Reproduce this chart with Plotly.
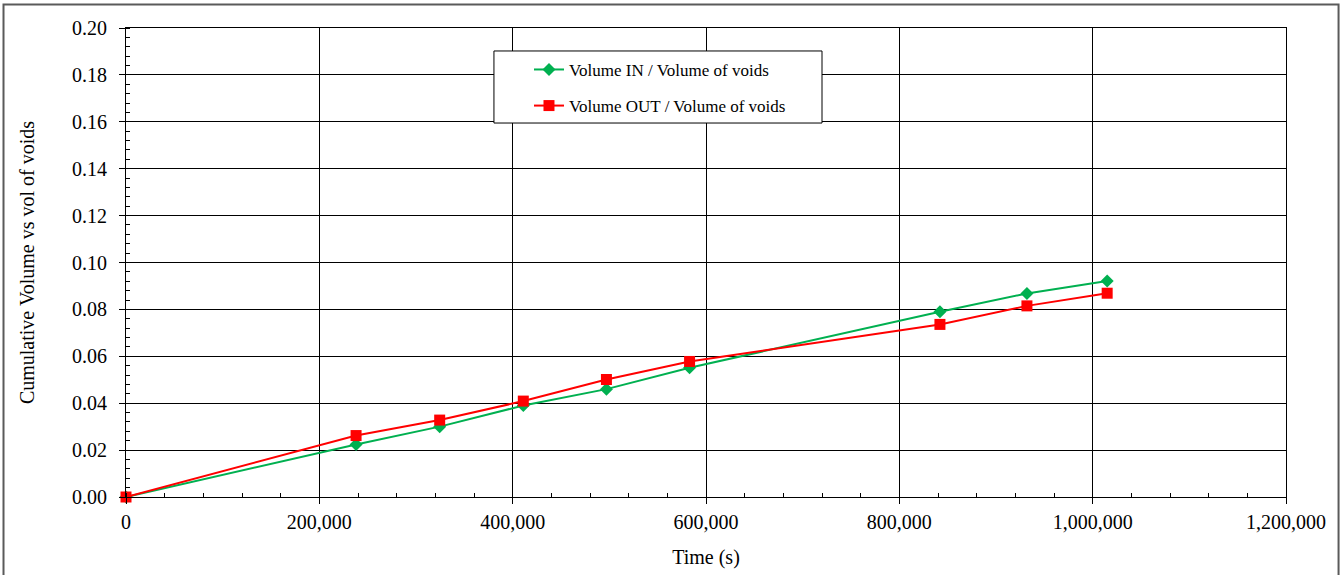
import plotly.graph_objects as go

time_in = [0, 238000, 324500, 411000, 497000, 583000, 842000, 932000, 1015000]
vol_in = [0.0, 0.0224, 0.0300, 0.0390, 0.0460, 0.0551, 0.0790, 0.0868, 0.0921]
time_out = [0, 238000, 324500, 411000, 497000, 583000, 842000, 932000, 1015000]
vol_out = [0.0, 0.0262, 0.0328, 0.0409, 0.0501, 0.0578, 0.0736, 0.0815, 0.0869]

name_in = "Volume IN / Volume of voids"
name_out = "Volume OUT / Volume of voids"
x_title = "Time (s)"
y_title = "Cumulative Volume vs vol of voids"

FONT = "Liberation Serif, Times New Roman, serif"

fig = go.Figure()
fig.add_trace(go.Scatter(x=time_in, y=vol_in, name=name_in, mode="lines+markers",
                         line=dict(color="#00B050", width=2),
                         marker=dict(symbol="diamond", size=10, color="#00B050"),
                         cliponaxis=False, legendgroup="a"))
fig.add_trace(go.Scatter(x=time_out, y=vol_out, name=name_out, mode="lines+markers",
                         line=dict(color="#FF0000", width=2),
                         marker=dict(symbol="square", size=11, color="#FF0000"),
                         cliponaxis=False, legendgroup="b"))

axis_common = dict(showline=True, linecolor="black", linewidth=1, mirror=True,
                   showgrid=True, gridcolor="black", gridwidth=1,
                   ticks="outside", ticklen=6, tickcolor="black",
                   tickfont=dict(family=FONT, size=20, color="black"),
                   zeroline=False, automargin=False)

fig.update_xaxes(range=[0, 1200000], dtick=200000, tick0=0, tickformat=",",
                 title=dict(text=x_title, font=dict(family=FONT, size=20, color="black"), standoff=17),
                 minor=dict(ticks="inside", dtick=40000, ticklen=4, tickcolor="black", showgrid=False),
                 ticklabelstandoff=1, **axis_common)
fig.update_yaxes(range=[0, 0.2], dtick=0.02, tick0=0, tickformat=".2f",
                 title=dict(text=y_title, font=dict(family=FONT, size=20, color="black"), standoff=32),
                 minor=dict(ticks="inside", dtick=0.004, ticklen=4, tickcolor="black", showgrid=False),
                 ticklabelstandoff=8, **axis_common)

fig.update_layout(
    width=1340, height=575,
    margin=dict(l=126, r=54, t=28, b=78),
    paper_bgcolor="white", plot_bgcolor="white",
    font=dict(family=FONT, color="black"),
    showlegend=True,
    legend=dict(x=0.3474, y=0.949, xanchor="left", yanchor="top",
                bgcolor="rgba(0,0,0,0)", borderwidth=0,
                font=dict(family=FONT, size=17, color="black"),
                tracegroupgap=11, traceorder="grouped"),
    shapes=[
        dict(type="rect", xref="paper", yref="paper",
             x0=-0.1056, x1=1.0453, y0=-0.25, y1=1.0501,
             line=dict(color="#5a5a5a", width=2), layer="below"),
        dict(type="rect", xref="paper", yref="paper",
             x0=0.3172, x1=0.6, y0=0.7974, y1=0.951,
             line=dict(color="black", width=1), fillcolor="white", layer="above"),
    ],
)

fig.write_html("out.html", config={"displayModeBar": False},
               post_script="document.body.style.margin='0px';")
